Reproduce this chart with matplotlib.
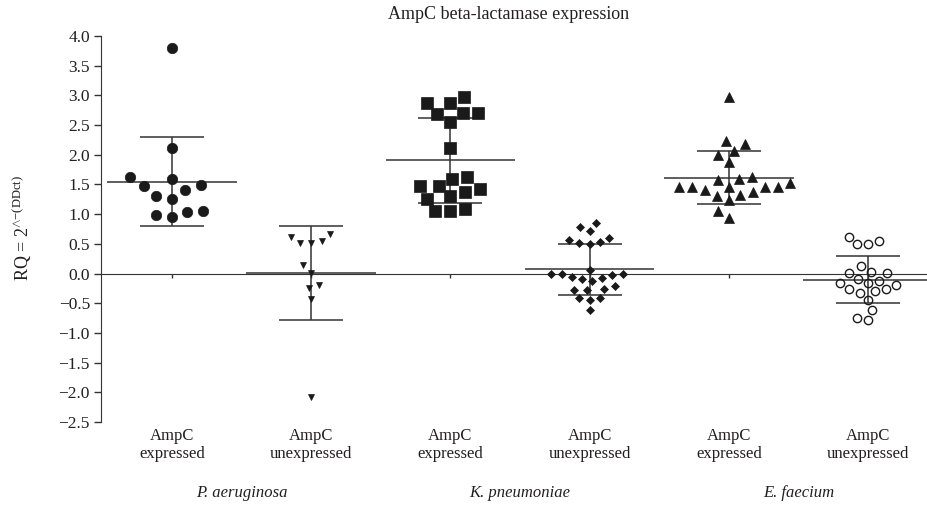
import numpy as np
import matplotlib
matplotlib.use('Agg')
import matplotlib.pyplot as plt
from matplotlib.transforms import blended_transform_factory

plt.rcParams['font.family'] = ['Liberation Serif', 'DejaVu Serif']
plt.rcParams['mathtext.fontset'] = 'custom'
plt.rcParams['mathtext.rm'] = 'Liberation Serif'
plt.rcParams['mathtext.it'] = 'Liberation Serif:italic'

# values (RQ per isolate)
pa_expressed = [3.79, 2.11, 1.60, 1.62, 1.48, 1.49, 1.41, 1.31, 1.26, 1.04, 1.06, 0.95, 0.98]
pa_unexpressed = [0.67, 0.62, 0.54, 0.51, 0.51, 0.14, 0.01, -0.19, -0.25, -0.43, -2.08]
kp_expressed = [2.97, 2.87, 2.87, 2.70, 2.70, 2.68, 2.56, 2.11, 1.60, 1.62, 1.48, 1.48,
                1.37, 1.43, 1.31, 1.26, 1.09, 1.05, 1.05]
kp_unexpressed = [0.85, 0.79, 0.71, 0.60, 0.56, 0.52, 0.53, 0.49, 0.06, 0.00, 0.00, -0.02,
                  0.00, -0.05, -0.08, -0.10, -0.12, -0.21, -0.26, -0.27, -0.27, -0.42,
                  -0.44, -0.42, -0.62]
ef_expressed = [2.97, 2.24, 2.18, 2.00, 2.07, 1.87, 1.59, 1.52, 1.45, 1.46, 1.46, 1.37,
                1.46, 1.46, 1.57, 1.62, 1.41, 1.33, 1.31, 1.23, 1.06, 0.94]
ef_unexpressed = [0.54, 0.50, 0.50, 0.62, 0.12, 0.02, 0.01, 0.01, -0.16, -0.12, -0.09,
                  -0.16, -0.20, -0.26, -0.30, -0.26, -0.32, -0.44, -0.61, -0.78, -0.75]

groups = [pa_expressed, pa_unexpressed, kp_expressed, kp_unexpressed, ef_expressed, ef_unexpressed]
group_labels = ['AmpC\nexpressed', 'AmpC\nunexpressed'] * 3
species = ['P. aeruginosa', 'K. pneumoniae', 'E. faecium']
yticks = np.arange(-2.5, 4.01, 0.5)

markers = ['o', 'v', 's', 'D', '^', 'o']
sizes = [7.5, 5, 8, 3.6, 7, 6]
faces = ['#1a1a1a', '#1a1a1a', '#1a1a1a', '#1a1a1a', '#1a1a1a', 'none']
spacing = [16, 11, 15, 10.5, 13, 11]   # px between neighbours in the swarm

text_col = '#231f20'
line_col = '#333333'


def swarm_offsets(ypx, sep):
    # simple beeswarm: put each point as close to the centre as it can go
    order = np.argsort(ypx)
    px_list, py_list = [], []
    xs = np.zeros(len(ypx))
    for i in order:
        y = ypx[i]
        cands = [0.0]
        for px, py in zip(px_list, py_list):
            dy = abs(py - y)
            if dy < sep:
                dx = np.sqrt(sep ** 2 - dy ** 2)
                cands += [px - dx, px + dx]
        cands = sorted(cands, key=lambda c: (abs(c), c))
        chosen = 0.0
        for c in cands:
            if all((c - px) ** 2 + (y - py) ** 2 >= sep ** 2 - 1e-6
                   for px, py in zip(px_list, py_list)):
                chosen = c
                break
        xs[i] = chosen
        px_list.append(chosen)
        py_list.append(y)
    return xs


fig = plt.figure(figsize=(9.27, 5.13), dpi=100)
ax = fig.add_axes([101 / 927, 1 - 422 / 513, (927 - 101) / 927, (422 - 36) / 513])

positions = np.arange(1, len(groups) + 1)
ax.set_xlim(0.49, 6.424)
ax.set_ylim(-2.5, 4.0)

# pixel scale for the swarm layout
p0 = ax.transData.transform((1, 0))
p1 = ax.transData.transform((2, 1))
px_per_x = p1[0] - p0[0]
px_per_y = p1[1] - p0[1]

for i, vals in enumerate(groups):
    vals = np.array(vals)
    x = positions[i]
    off = swarm_offsets(vals * px_per_y, spacing[i]) / px_per_x
    ax.plot(x + off, vals, linestyle='none', marker=markers[i], markersize=sizes[i],
            markerfacecolor=faces[i], markeredgecolor='#1a1a1a',
            markeredgewidth=1.0 if faces[i] == 'none' else 0.5, zorder=3)

    m = vals.mean()
    s = vals.std(ddof=1)
    ax.vlines(x, m - s, m + s, color=line_col, linewidth=1.1, zorder=2)
    ax.hlines([m - s, m + s], x - 0.23, x + 0.23, color=line_col, linewidth=1.1, zorder=2)
    ax.hlines(m, x - 0.465, x + 0.465, color=line_col, linewidth=1.1, zorder=2)

for side in ['top', 'right']:
    ax.spines[side].set_visible(False)
ax.spines['bottom'].set_position(('data', 0))
ax.spines['bottom'].set_color(line_col)
ax.spines['left'].set_color(line_col)
ax.spines['left'].set_bounds(-2.5, 4.0)

ax.set_yticks(yticks)
ax.set_yticklabels([f'{v:.1f}'.replace('-', '\u2212') for v in yticks])
ax.tick_params(axis='y', direction='out', length=5, width=1, color=line_col,
               labelsize=12.5, labelcolor=text_col, pad=3)
ax.set_xticks(positions)
ax.tick_params(axis='x', direction='out', length=3, width=1, color=line_col,
               labelbottom=False)

trans = blended_transform_factory(ax.transData, fig.transFigure)
for x, lab in zip(positions, group_labels):
    ax.text(x, 1 - 428 / 513, lab, transform=trans, ha='center', va='top',
            fontsize=12, color=text_col, linespacing=1.2)
for j, sp in enumerate(species):
    ax.text(positions[2 * j] + 0.5, 1 - 493 / 513, sp, transform=trans, ha='center',
            va='center', fontsize=12, style='italic', color=text_col)

fig.text(509 / 927, 1 - 15 / 513, 'AmpC beta-lactamase expression', ha='center',
         va='center', fontsize=13, color=text_col)
fig.text(22 / 927, 1 - 228 / 513, r'RQ = 2$^{\wedge\mathrm{-(DDct)}}$', rotation=90,
         ha='center', va='center', fontsize=13, color=text_col)

fig.savefig('out.png', dpi=100)
